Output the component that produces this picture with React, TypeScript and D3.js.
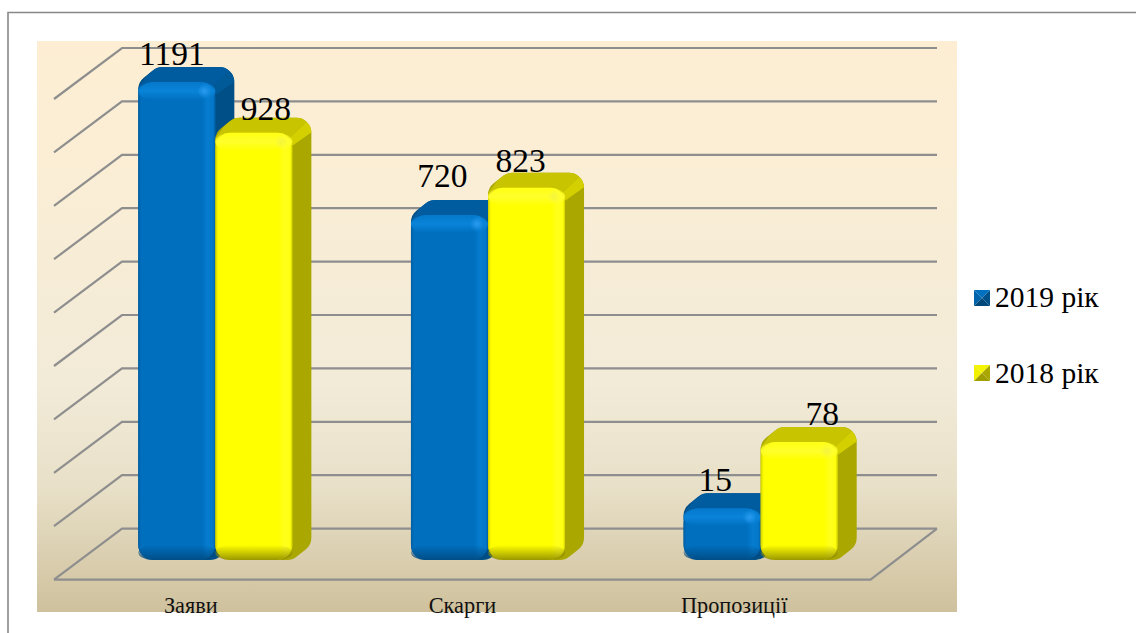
import React from "react";
import * as d3 from "d3";

const categories = ["Заяви", "Скарги", "Пропозиції"];
const seriesNames = ["2019 рік", "2018 рік"];
// Printed data labels
const labels2019 = [1191, 720, 15];
const labels2018 = [928, 823, 78];
// Bar heights read against the chart's nine gridline intervals (the printed labels do not follow them)
const heights2019 = [895, 646, 97];
const heights2018 = [800, 697, 221];
const gridTicks = [0, 100, 200, 300, 400, 500, 600, 700, 800, 900];
// Hand-placed label shifts seen in the picture
const labelShift2019 = [-5, -7, -7];
const labelShift2018 = [12, -6, 23];
const labelLift2019 = [0, 11, 0];
const labelLift2018 = [-4, -1, 0];

const W = 1136, H = 633;
const depthX = 19, depthY = 15;
const wallX = 68, wallY = 51;
const serif = "'Liberation Serif', 'Times New Roman', serif";

const palettes = [
  { id: "b", front: "#006fbe", top: "#005b9f", side: "#004f86", corner: "#005a98", light: "#0a86dc", dark: "#004a80", spot: "#2a9cf0" },
  { id: "y", front: "#ffff00", top: "#c8c400", side: "#a9a700", corner: "#d4d000", light: "#ffff30", dark: "#8f8c00", spot: "#f4f440" },
];

const xOuter = d3.scaleBand<string>().domain(categories).range([79, 897]).paddingInner(0.435).paddingOuter(0.2175);
const xInner = d3.scaleBand<number>().domain([0, 1]).range([0, xOuter.bandwidth()]);
const xLabel = d3.scaleBand<string>().domain(categories).range([55, 870]);
const yBar = d3.scaleLinear().domain([0, 900]).range([560, 79.4]);
const yBack = d3.scaleLinear().domain([0, 900]).range([528.6, 48]);

function roundedPoly(pts: [number, number][], r: number) {
  const p = d3.path();
  const n = pts.length;
  const m = (a: [number, number], b: [number, number]): [number, number] => [(a[0] + b[0]) / 2, (a[1] + b[1]) / 2];
  const s = m(pts[n - 1], pts[0]);
  p.moveTo(s[0], s[1]);
  for (let i = 0; i < n; i++) {
    const a = pts[i], b = pts[(i + 1) % n];
    const e = m(a, b);
    p.arcTo(a[0], a[1], e[0], e[1], r);
  }
  p.closePath();
  return p.toString();
}

function Bar({ x, w, value, pal, uid }: any) {
  const top = yBar(value), bottom = yBar(0);
  const x1 = x + w;
  const r = 15;
  const sil = roundedPoly([
    [x, top], [x + depthX, top - depthY], [x1 + depthX, top - depthY],
    [x1 + depthX, bottom - depthY], [x1, bottom], [x, bottom],
  ], 15);
  const cid = `clip-${uid}`;
  return (
    <g>
      <clipPath id={cid}><path d={sil} /></clipPath>
      <path d={sil} fill={pal.side} />
      <path
        clipPath={`url(#${cid})`}
        d={`M${x - 5},${top + 12}L${x + depthX},${top - depthY - 5}L${x1 + depthX + 5},${top - depthY - 5}L${x1 - 8},${top + 10}Z`}
        fill={pal.top}
      />
      <path
        clipPath={`url(#${cid})`}
        d={`M${x1 - 8},${top + 10}L${x1 + depthX + 5},${top - depthY - 5}L${x1 + depthX + 5},${top - 4}L${x1},${top + 13}Z`}
        fill={pal.corner}
      />
      <rect x={x} y={top} width={w} height={bottom - top} rx={r} fill={pal.front} />
      <rect x={x} y={top} width={w} height={bottom - top} rx={r} fill={`url(#h-${pal.id})`} />
      <rect x={x} y={top} width={w} height={18} rx={r} fill={`url(#t-${pal.id})`} />
      <rect x={x} y={bottom - 15} width={w} height={15} rx={r} fill={`url(#bt-${pal.id})`} />
      <circle cx={x1 - 11} cy={top + 9} r={7} fill={`url(#s-${pal.id})`} />
    </g>
  );
}

function Swatch({ x, y, s, pal }: any) {
  const c: [number, number] = [x + s / 2, y + s / 2];
  const tri = (a: number[], b: number[], fill: string) => (
    <path d={`M${a[0]},${a[1]}L${b[0]},${b[1]}L${c[0]},${c[1]}Z`} fill={fill} />
  );
  const TL = [x, y], TR = [x + s, y], BR = [x + s, y + s], BL = [x, y + s];
  return (
    <g>
      {tri(TL, TR, pal.id === "b" ? "#0070c0" : "#f4f400")}
      {tri(TL, BL, pal.id === "b" ? "#0064ac" : "#f0f000")}
      {tri(TR, BR, pal.id === "b" ? "#00508a" : "#a9a700")}
      {tri(BL, BR, pal.id === "b" ? "#00477a" : "#a09e00")}
    </g>
  );
}

export default function App() {
  return (
    <svg width={W} height={H} style={{ position: "fixed", left: 0, top: 0, background: "#fff" }} fontFamily={serif}>
      <defs>
        <linearGradient id="bg" x1="0" y1="0" x2="0" y2="1">
          <stop offset="0" stopColor="#fdeed3" />
          <stop offset="0.2" stopColor="#fbeed5" />
          <stop offset="0.6" stopColor="#f2ebd8" />
          <stop offset="0.78" stopColor="#e8e0c8" />
          <stop offset="1" stopColor="#cfc19d" />
        </linearGradient>
        {palettes.map((p) => (
          <React.Fragment key={p.id}>
            <linearGradient id={`h-${p.id}`} x1="0" y1="0" x2="1" y2="0">
              <stop offset="0" stopColor={p.dark} stopOpacity="0.5" />
              <stop offset="0.05" stopColor={p.front} stopOpacity="0" />
              <stop offset="0.82" stopColor={p.light} stopOpacity="0" />
              <stop offset="0.9" stopColor={p.light} stopOpacity="0.6" />
              <stop offset="0.97" stopColor={p.light} stopOpacity="0.35" />
              <stop offset="1" stopColor={p.dark} stopOpacity="0.4" />
            </linearGradient>
            <linearGradient id={`t-${p.id}`} x1="0" y1="0" x2="0" y2="1">
              <stop offset="0" stopColor={p.light} stopOpacity="0.4" />
              <stop offset="0.5" stopColor={p.light} stopOpacity="0.9" />
              <stop offset="1" stopColor={p.light} stopOpacity="0" />
            </linearGradient>
            <linearGradient id={`bt-${p.id}`} x1="0" y1="0" x2="0" y2="1">
              <stop offset="0" stopColor={p.dark} stopOpacity="0" />
              <stop offset="1" stopColor={p.dark} stopOpacity="0.9" />
            </linearGradient>
            <radialGradient id={`s-${p.id}`}>
              <stop offset="0" stopColor={p.spot} stopOpacity="0.95" />
              <stop offset="1" stopColor={p.spot} stopOpacity="0" />
            </radialGradient>
          </React.Fragment>
        ))}
      </defs>

      <path d={`M8,${H}V12.5H${W}`} fill="none" stroke="#888" strokeWidth={1.6} />
      <rect x={37} y={41} width={920} height={571} fill="url(#bg)" />

      <g fill="none" stroke="#8e8e8e" strokeWidth={2.2}>
        {gridTicks.map((t) => {
          const y = yBack(t);
          return <path key={t} d={`M${54},${y + wallY}L${54 + wallX},${y}H937`} />;
        })}
        <path d={`M54,${yBack(0) + wallY}H870.5L937,${yBack(0)}`} />
      </g>

      {categories.map((c, i) => {
        const x0 = xOuter(c)!;
        return (
          <g key={c}>
            <Bar uid={`a${i}`} x={x0 + xInner(0)!} w={xInner.bandwidth()} value={heights2019[i]} pal={palettes[0]} />
            <Bar uid={`c${i}`} x={x0 + xInner(1)!} w={xInner.bandwidth()} value={heights2018[i]} pal={palettes[1]} />
          </g>
        );
      })}

      <g fontSize={33.5} textAnchor="middle" fill="#000">
        {categories.map((c, i) => {
          const x0 = xOuter(c)!;
          const bw = xInner.bandwidth();
          return (
            <g key={c}>
              <text x={x0 + xInner(0)! + bw / 2 + labelShift2019[i]} y={yBar(heights2019[i]) - depthY - 2 - labelLift2019[i]}>{labels2019[i]}</text>
              <text x={x0 + xInner(1)! + bw / 2 + labelShift2018[i]} y={yBar(heights2018[i]) - depthY - 2 - labelLift2018[i]}>{labels2018[i]}</text>
            </g>
          );
        })}
      </g>

      <g fontSize={22.3} textAnchor="middle" fill="#111">
        {categories.map((c) => (
          <text key={c} x={xLabel(c)! + xLabel.bandwidth() / 2} y={613}>{c}</text>
        ))}
      </g>

      {seriesNames.map((s, i) => (
        <g key={s}>
          <Swatch x={974} y={290 + i * 75} s={16} pal={palettes[i]} />
          <text x={995} y={307 + i * 75.5} fontSize={29.5} fill="#000">{s}</text>
        </g>
      ))}
    </svg>
  );
}
